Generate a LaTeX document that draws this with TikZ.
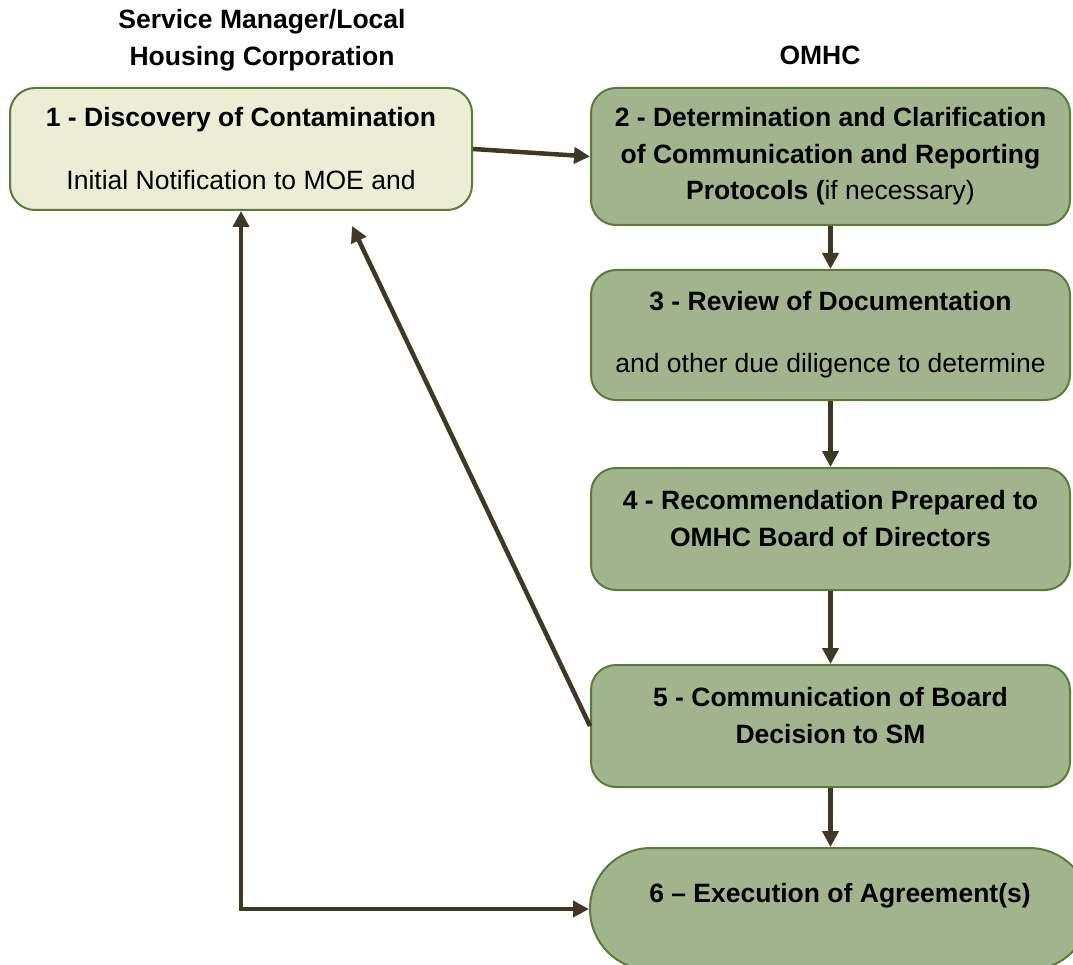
\documentclass[tikz,border=0pt]{standalone}
\usepackage{fontspec}
\setmainfont{Liberation Sans}
\usepackage{tikz}
\usetikzlibrary{arrows.meta, positioning}
\definecolor{paleboxfill}{RGB}{235,237,213}
\definecolor{greenboxfill}{RGB}{162,180,141}
\definecolor{boxborder}{RGB}{88,125,56}
\definecolor{arrowbrown}{RGB}{64,56,36}

\begin{document}
\begin{tikzpicture}[x=1pt, y=-1pt,
    every node/.style={font=\fontsize{26.5}{36.5}\selectfont},
    heading/.style={align=center, font=\fontsize{26.5}{36.5}\selectfont\bfseries},
    smbox/.style={rectangle, draw=boxborder, line width=2pt, fill=paleboxfill, rounded corners=25pt, minimum width=462pt, minimum height=122pt, align=center},
    omhcbox/.style={rectangle, draw=boxborder, line width=2pt, fill=greenboxfill, rounded corners=25pt, minimum width=479pt, minimum height=122pt, align=center},
    arrow/.style={-{Triangle[length=16pt, width=16pt]}, line width=4.5pt, draw=arrowbrown}
]
\useasboundingbox (0,0) rectangle (1073,965);
\clip (0,0) rectangle (1073,965);

\node[heading] (smhead) at (262,40) {Service Manager/Local\\Housing Corporation};
\node[heading] (omhchead) at (820,55) {OMHC};

\node[smbox] (b1) at (241,149) {\textbf{1 - Discovery of Contamination}\\[26.5pt]Initial Notification to MOE and};
\node[omhcbox, minimum height=137pt] (b2) at (830.5,156.5) {\textbf{2 - Determination and Clarification}\\\textbf{of Communication and Reporting}\\\textbf{Protocols (}if necessary)};
\node[omhcbox, minimum height=130pt, below=43pt of b2] (b3) {\textbf{3 - Review of Documentation}\\[25.5pt]and other due diligence to determine};
\node[omhcbox, below=66pt of b3] (b4) {\textbf{4 - Recommendation Prepared to}\\\textbf{OMHC Board of Directors}\\[-15pt]\mbox{}};
\node[omhcbox, below=73pt of b4] (b5) {\textbf{5 - Communication of Board}\\\textbf{Decision to SM}\\[-15pt]\mbox{}};
\node[omhcbox, minimum width=500pt, rounded corners=61pt, below=59pt of b5.south west, anchor=north west, xshift=-1pt] (b6) {\textbf{6 – Execution of Agreement(s)}\\[-4.5pt]\mbox{}};

\coordinate (back) at (352,226);

\draw[arrow] (b1.east) -- (b2.west);
\draw[arrow] (b2.south) -- (b3.north);
\draw[arrow] (b3.south) -- (b4.north);
\draw[arrow] (b4.south) -- (b5.north);
\draw[arrow] (b5.south) -- (b5.south |- b6.north);
\draw[arrow] (b5.west) -- (back);
\draw[arrow, {Triangle[length=16pt, width=16pt]}-{Triangle[length=16pt, width=16pt]}] (b1.south) |- (b6.west);
\end{tikzpicture}
\end{document}
